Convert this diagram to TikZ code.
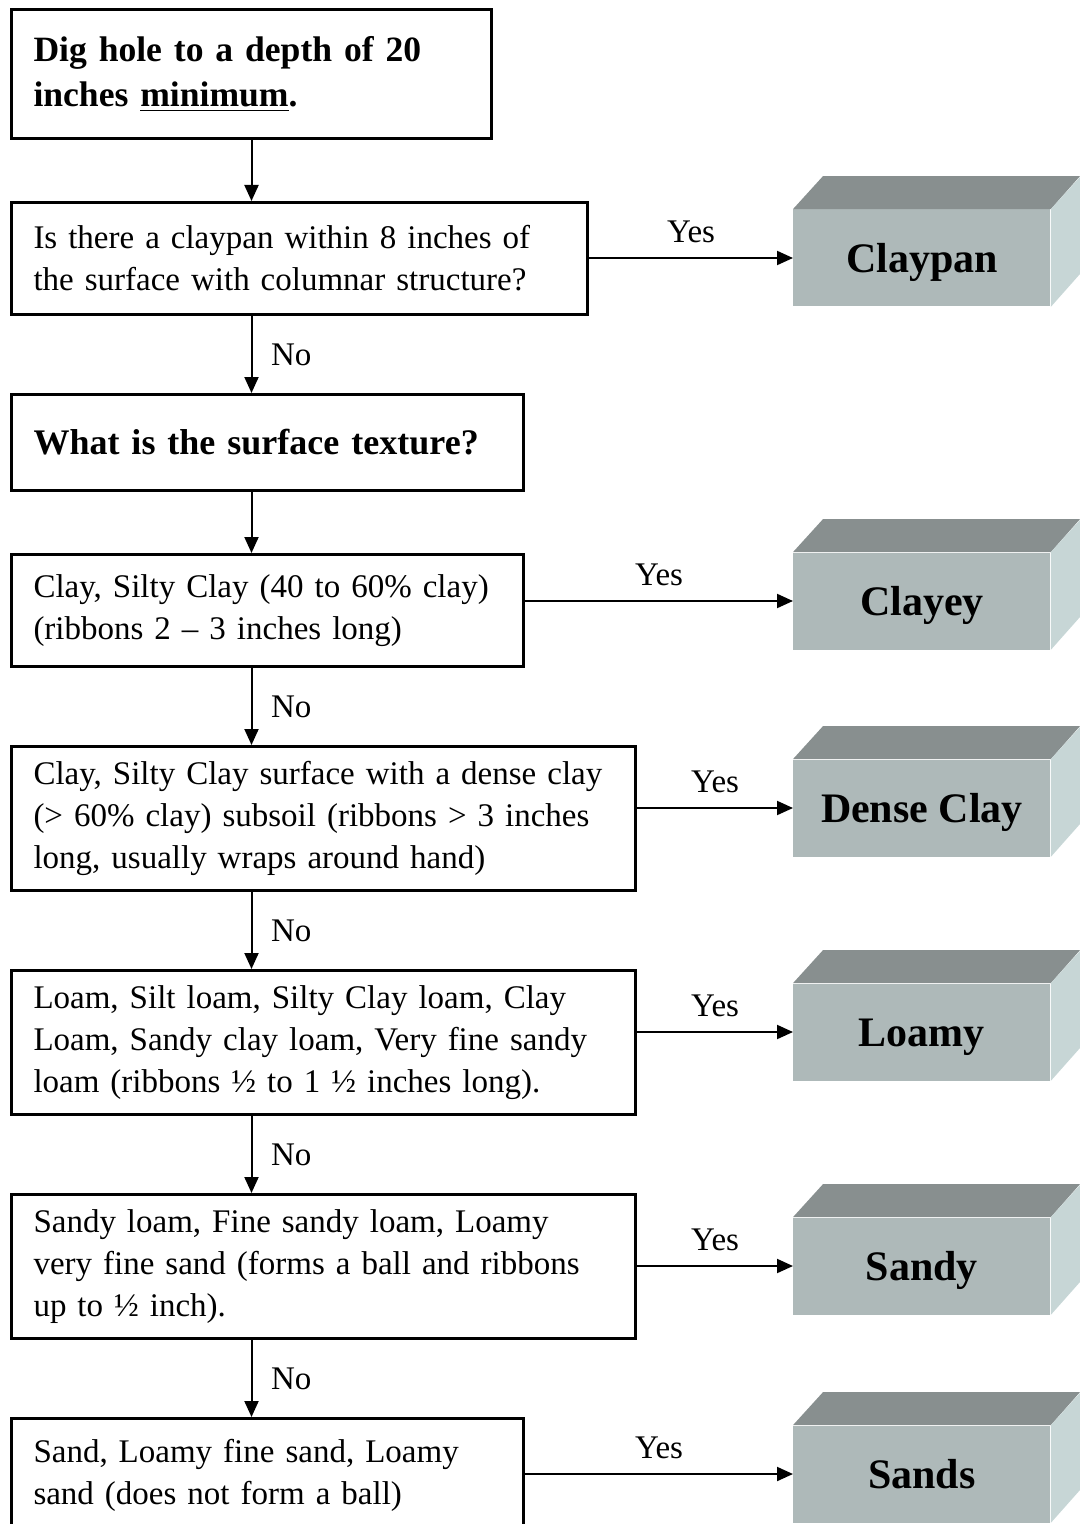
\documentclass[tikz,border=0pt]{standalone}
\usepackage{fontspec}
\setmainfont{Liberation Serif}
\definecolor{frontgray}{RGB}{174,185,185}
\definecolor{topgray}{RGB}{136,143,143}
\definecolor{sidegray}{RGB}{199,214,214}
\usetikzlibrary{arrows.meta,positioning,calc}

\begin{document}
\begin{tikzpicture}[x=0.5pt, y=-0.5pt,
    every node/.style={font=\fontsize{16.5}{21}\selectfont},
    qbox/.style={draw, line width=1.5pt, anchor=north west, align=left, inner xsep=11pt, text width=#1},
    soil/.style={fill=frontgray, anchor=west, minimum width=128.5pt, minimum height=48.5pt, text height=15pt, text depth=0.5pt, font=\fontsize{21}{25}\selectfont\bfseries},
    arr/.style={-{Triangle[length=8pt,width=7pt]}, line width=1pt}]
    \useasboundingbox (0,0) rectangle (1080,1524);
    % questions
    \node[qbox=218pt, minimum height=64.5pt, font=\fontsize{17.8}{22.5}\selectfont\bfseries] (dig) at (10,8) {Dig hole to a depth of 20\\inches \underline{minimum}.};
    \node[qbox=266pt, minimum height=56pt] (pan) at (10,201) {Is there a claypan within 8 inches of\\the surface with columnar structure?};
    \node[qbox=234pt, minimum height=48pt, font=\fontsize{18}{22.5}\selectfont\bfseries] (tex) at (10,393) {What is the surface texture?};
    \node[qbox=234pt, minimum height=56pt] (qclay) at (10,553) {Clay, Silty Clay (40 to 60\% clay)\\(ribbons 2 -- 3 inches long)};
    \node[qbox=290pt, minimum height=72pt] (qdense) at (10,745) {Clay, Silty Clay surface with a dense clay\\(> 60\% clay) subsoil (ribbons > 3 inches\\long, usually wraps around hand)};
    \node[qbox=290pt, minimum height=72pt] (qloam) at (10,969) {Loam, Silt loam, Silty Clay loam, Clay\\Loam, Sandy clay loam, Very fine sandy\\loam (ribbons ½ to 1 ½ inches long).};
    \node[qbox=290pt, minimum height=72pt] (qsandy) at (10,1193) {Sandy loam, Fine sandy loam, Loamy\\very fine sand (forms a ball and ribbons\\up to ½ inch).};
    \node[qbox=234pt, minimum height=57pt] (qsand) at (10,1417) {Sand, Loamy fine sand, Loamy\\sand (does not form a ball)};
    % soil groups
    \node[soil] (cp) at (793,258) {Claypan};
    \node[soil] (cl) at (793,601) {Clayey};
    \node[soil] (dc) at (793,808) {Dense Clay};
    \node[soil] (lo) at (793,1032) {Loamy};
    \node[soil] (sy) at (793,1266) {Sandy};
    \node[soil] (sa) at (793,1474) {Sands};
    \foreach \s in {cp,cl,dc,lo,sy,sa} {
        \fill[topgray] (\s.north west) -- ++(30,-33) -- ++(257,0) -- (\s.north east) -- cycle;
        \fill[sidegray] (\s.north east) -- ++(30,-33) -- ++(0,97) -- (\s.south east) -- cycle;
    }
    % no path
    \draw[arr] (dig.south) -- (pan.north -| dig.south);
    \draw[arr] (pan.south -| dig.south) -- node[right=6pt]{No} (tex.north -| dig.south);
    \draw[arr] (tex.south -| dig.south) -- (qclay.north -| dig.south);
    \draw[arr] (qclay.south -| dig.south) -- node[right=6pt]{No} (qdense.north -| dig.south);
    \draw[arr] (qdense.south -| dig.south) -- node[right=6pt]{No} (qloam.north -| dig.south);
    \draw[arr] (qloam.south -| dig.south) -- node[right=6pt]{No} (qsandy.north -| dig.south);
    \draw[arr] (qsandy.south -| dig.south) -- node[right=6pt]{No} (qsand.north -| dig.south);
    % yes path
    \draw[arr] (pan.east |- cp) -- node[above=4pt]{Yes} (cp);
    \draw[arr] (qclay.east |- cl) -- node[above=4pt]{Yes} (cl);
    \draw[arr] (qdense.east |- dc) -- node[above=4pt]{Yes} (dc);
    \draw[arr] (qloam.east |- lo) -- node[above=4pt]{Yes} (lo);
    \draw[arr] (qsandy.east |- sy) -- node[above=4pt]{Yes} (sy);
    \draw[arr] (qsand.east |- sa) -- node[above=4pt]{Yes} (sa);
\end{tikzpicture}
\end{document}
